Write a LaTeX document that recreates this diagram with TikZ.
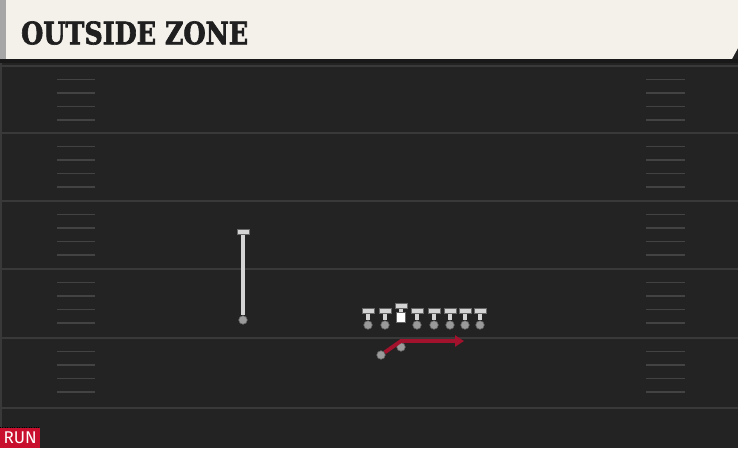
\documentclass[tikz,border=0pt]{standalone}
\usepackage{fontspec}
\usepackage{tikz}
\usetikzlibrary{arrows.meta,calc}
\newfontfamily\playfont[FakeStretch=0.82, FakeBold=2]{DejaVu Serif Bold}
\newfontfamily\tagfont{Fira Sans}
\definecolor{field}{HTML}{232323}
\definecolor{chalk}{HTML}{393939}
\definecolor{cream}{HTML}{F4F1EB}
\definecolor{runred}{HTML}{C8102E}
\definecolor{route}{HTML}{A3122C}
\definecolor{jersey}{HTML}{D4D4D4}
\definecolor{dotgrey}{HTML}{9A9A9A}
\tikzset{%
  yardline/.style = {draw=chalk, line width=2pt},%
  hashmark/.style = {draw=chalk!95!white, line width=1.5pt},%
  player/.style   = {circle, fill=dotgrey, draw=black!60, line width=0.6pt,%
                     inner sep=0pt, minimum size=8.5pt},%
  tbar/.style     = {rectangle, fill=jersey, draw=black!60, line width=0.6pt,%
                     inner sep=0pt, minimum width=12pt, minimum height=5pt},%
  centre/.style   = {rectangle, fill=white, draw=black!60, line width=0.6pt,%
                     inner sep=0pt, minimum width=9pt, minimum height=10pt},%
  stem/.style     = {draw=jersey, line width=4.5pt},%
  run/.style      = {draw=route, line width=3.8pt, -{Triangle[length=9pt,width=11pt]}}%
}

\begin{document}
\begin{tikzpicture}
[x=1pt,y=-1pt]
	\useasboundingbox (0,0) rectangle (738,448);
	\fill[field] (0,0) rectangle (738,448);
	\fill[cream] (0,0) -- (738,0) -- (738,48) -- (732,59) -- (0,59) -- cycle;
	\fill[black!35] (0,0) rectangle (6,59);
	\fill[black!90] (0,59) rectangle (738,63);
	\node[anchor=west, text=black!88, inner sep=0pt, font=\playfont\fontsize{31}{31}\selectfont]
		(title) at (21,33) {OUTSIDE ZONE};
	\foreach \y in {66,133,201,269,338,408}
		\draw[yardline] (0,\y) -- (738,\y);
	\foreach \y in {66,133,201,269,338}
		\foreach \k in {1,...,4}{
			\draw[hashmark] (57,{\y+13.5*\k}) -- (95,{\y+13.5*\k});
			\draw[hashmark] (646,{\y+13.5*\k}) -- (685,{\y+13.5*\k});
		}
	\fill[chalk] (0,63) rectangle (2,428);
	\node[anchor=south west, fill=runred, text=white, inner sep=0pt,
		minimum width=40pt, minimum height=20pt,
		font=\tagfont\fontsize{17}{17}\selectfont] (tag) at (0,448) {RUN};
	\draw[dotted, black] (tag.north west) -- (tag.north east);
	\node[tbar] (wrbar) at (243,232) {};
	\node[player] (wr) at (243,320) {};
	\draw[stem] (wrbar.south) -- (wr.north);
	\foreach \x [count=\i] in {368,385,417,434,450,465,480}{
		\node[tbar] (bar\i) at (\x,311) {};
		\node[player] (ol\i) at (\x,325) {};
		\draw[stem] (bar\i.south) -- (ol\i.north);
	}
	\node[tbar] (cbar) at (401,306) {};
	\node[centre] (c) at (401,317) {};
	\draw[stem] (cbar.south) -- (c.north);
	\node[player] (qb) at (401,347) {};
	\node[player] (rb) at (381,355) {};
	\coordinate (cut) at (401,341);
	\coordinate (aim) at (464,341);
	\draw[run] (rb) -- (cut) -- (aim);
\end{tikzpicture}
\end{document}
